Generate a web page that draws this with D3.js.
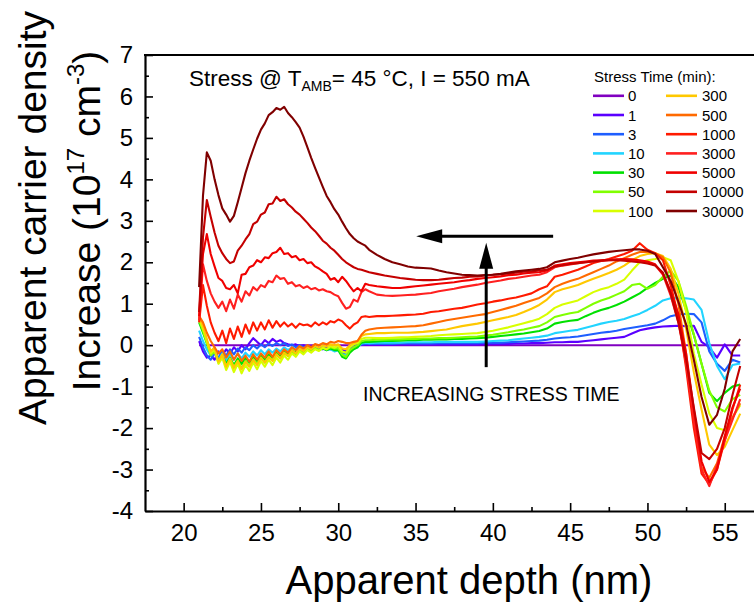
<!DOCTYPE html>
<html><head><meta charset="utf-8">
<script src="https://cdn.jsdelivr.net/npm/d3@7"></script>
<style>body{margin:0;background:#fff} svg{display:block} text{font-family:"Liberation Sans",Arial,sans-serif;fill:#000}</style>
</head><body><svg id="c" width="754" height="604"></svg>
<script>
const depth = [
 21,21.25,21.5,21.75,22,22.25,22.5,22.75,23,23.25,
 23.5,23.75,24,24.25,24.5,24.75,25,25.25,25.5,25.75,
 26,26.25,26.5,26.75,27,27.25,27.5,27.75,28,28.25,
 28.5,28.75,29,29.25,29.5,29.75,30,30.25,30.5,30.75,
 31,31.25,31.5,31.75,32,
 32.5,33,33.5,34,34.5,35,35.5,36,36.5,37,
 37.5,38,38.5,39,39.5,40,40.5,41,41.5,42,
 42.5,43,43.5,44,44.5,45,45.5,46,46.5,47,
 47.5,48,48.5,49,49.5,50,50.5,51,51.5,52,
 52.5,53,53.5,54,54.5,55,55.5,56];

const stressTimes = ["0","1","3","10","30","50","100","300","500","1000","3000","5000","10000","30000"];

const s0 = [
 0,0,0,0,0,0,0,0,0,0, 0,0,0,0,0,0,0,0,0,0, 0,0,0,0,0,0,0,0,0,0, 0,0,0,0,0,0,0,0,0,0, 0,0,0,0,0,
 0,0,0,0,0,0,0,0,0,0, 0,0,0,0,0,0,0,0,0,0, 0,0,0,0,0,0,0,0,0,0, 0,0,0,0,0,0,0,0,0,0, 0,0,0,0,0,0,0,0];
const s1 = [
 0.10,-0.15,-0.30,-0.25,-0.35,-0.15,-0.25,-0.10,-0.20,-0.05,
 -0.15,0.00,-0.10,0.05,0.17,0.08,0.00,0.12,0.05,0.15,
 0.08,0.12,0.05,0.02,0.00,0.02,-0.02,0.00,-0.05,-0.02,
 -0.08,-0.05,-0.10,-0.05,-0.10,-0.08,-0.05,-0.10,-0.15,-0.05,
 -0.02,0.00,0.02,0.01,0.01,
 0.01,0.01,0.01,0.02,0.02,0.02,0.02,0.02,0.02,0.02,
 0.02,0.02,0.02,0.02,0.03,0.03,0.03,0.03,0.04,0.04,
 0.05,0.05,0.06,0.07,0.07,0.08,0.08,0.10,0.12,0.14,
 0.16,0.18,0.20,0.28,0.36,0.40,0.43,0.45,0.46,0.47,
 0.46,0.47,0.08,-0.05,-0.30,0.02,-0.25,-0.25];
const s3 = [
 0.20,-0.05,-0.25,-0.35,-0.20,-0.30,-0.15,-0.25,-0.10,-0.22,
 -0.08,-0.18,-0.05,-0.12,0.00,-0.08,0.02,-0.05,0.04,-0.02,
 0.05,0.00,0.05,-0.02,0.02,-0.05,0.00,-0.05,-0.02,-0.08,
 -0.05,-0.10,-0.06,-0.12,-0.08,-0.10,-0.12,-0.18,-0.22,-0.10,
 -0.05,-0.02,0.02,0.03,0.03,
 0.03,0.03,0.03,0.04,0.04,0.04,0.04,0.04,0.05,0.05,
 0.05,0.05,0.05,0.05,0.06,0.06,0.06,0.07,0.08,0.09,
 0.10,0.11,0.13,0.16,0.18,0.19,0.21,0.24,0.27,0.30,
 0.32,0.35,0.39,0.42,0.45,0.48,0.52,0.60,0.70,0.74,
 0.76,0.75,0.55,-0.15,-0.45,-0.62,-0.35,-0.42];
const s10 = [
 0.35,0.10,-0.10,-0.25,-0.15,-0.35,-0.20,-0.38,-0.22,-0.35,
 -0.20,-0.32,-0.18,-0.28,-0.15,-0.25,-0.12,-0.22,-0.10,-0.18,
 -0.08,-0.15,-0.05,-0.12,-0.05,-0.10,-0.05,-0.08,-0.05,-0.10,
 -0.06,-0.12,-0.08,-0.12,-0.10,-0.15,-0.12,-0.22,-0.25,-0.12,
 -0.08,-0.05,0.04,0.06,0.05,
 0.06,0.06,0.06,0.06,0.07,0.07,0.07,0.07,0.08,0.08,
 0.08,0.08,0.08,0.08,0.09,0.10,0.11,0.12,0.14,0.16,
 0.18,0.20,0.23,0.29,0.32,0.35,0.37,0.42,0.47,0.52,
 0.56,0.59,0.63,0.70,0.76,0.85,0.95,1.08,1.13,1.14,
 1.13,1.10,0.85,0.05,-0.50,-0.82,-0.48,-0.44];
const s30 = [
 0.55,0.30,0.05,-0.20,-0.10,-0.38,-0.25,-0.45,-0.30,-0.48,
 -0.32,-0.45,-0.30,-0.42,-0.28,-0.38,-0.25,-0.35,-0.22,-0.30,
 -0.18,-0.28,-0.15,-0.22,-0.12,-0.18,-0.10,-0.16,-0.10,-0.15,
 -0.08,-0.12,-0.08,-0.12,-0.08,-0.12,-0.12,-0.28,-0.32,-0.18,
 -0.10,-0.05,0.06,0.08,0.08,
 0.09,0.10,0.10,0.11,0.12,0.12,0.13,0.13,0.14,0.14,
 0.15,0.15,0.16,0.17,0.18,0.20,0.22,0.24,0.26,0.28,
 0.31,0.34,0.40,0.52,0.56,0.59,0.61,0.70,0.78,0.85,
 0.90,0.97,1.05,1.15,1.25,1.38,1.50,1.60,1.68,1.40,
 0.85,0.25,-0.45,-1.15,-1.35,-1.15,-1.00,-0.95];
const s50 = [
 0.60,0.35,0.05,-0.25,-0.15,-0.42,-0.28,-0.50,-0.35,-0.52,
 -0.38,-0.55,-0.38,-0.50,-0.35,-0.45,-0.30,-0.42,-0.28,-0.36,
 -0.22,-0.32,-0.20,-0.26,-0.15,-0.22,-0.12,-0.18,-0.10,-0.15,
 -0.08,-0.12,-0.06,-0.10,-0.05,-0.08,-0.08,-0.22,-0.28,-0.12,
 -0.05,0.00,0.10,0.12,0.12,
 0.13,0.13,0.14,0.14,0.15,0.15,0.16,0.16,0.17,0.17,
 0.18,0.19,0.20,0.21,0.23,0.25,0.28,0.31,0.35,0.38,
 0.42,0.46,0.55,0.68,0.73,0.77,0.80,0.90,1.00,1.08,
 1.14,1.22,1.30,1.45,1.48,1.36,1.45,1.65,1.80,1.55,
 0.95,0.25,-0.45,-1.10,-1.50,-1.60,-1.30,-1.20];
const s100 = [
 0.65,0.40,0.10,-0.20,-0.10,-0.45,-0.30,-0.60,-0.40,-0.65,
 -0.45,-0.68,-0.48,-0.62,-0.42,-0.58,-0.38,-0.52,-0.35,-0.48,
 -0.30,-0.42,-0.25,-0.35,-0.20,-0.28,-0.15,-0.22,-0.12,-0.18,
 -0.10,-0.14,-0.06,-0.10,-0.02,-0.06,-0.02,-0.15,-0.18,-0.05,
 0.02,0.05,0.15,0.18,0.18,
 0.17,0.17,0.18,0.19,0.19,0.20,0.21,0.22,0.24,0.25,
 0.26,0.27,0.28,0.29,0.32,0.35,0.39,0.43,0.48,0.53,
 0.58,0.64,0.75,0.90,0.98,1.03,1.08,1.18,1.28,1.35,
 1.40,1.48,1.58,1.80,2.00,2.05,2.08,2.12,2.05,1.55,
 0.80,-0.20,-0.95,-1.65,-2.00,-2.05,-1.75,-1.45];
const s300 = [
 0.70,0.45,0.15,-0.15,-0.05,-0.40,-0.22,-0.52,-0.32,-0.55,
 -0.38,-0.58,-0.40,-0.52,-0.35,-0.48,-0.30,-0.42,-0.28,-0.38,
 -0.22,-0.32,-0.18,-0.26,-0.12,-0.20,-0.08,-0.14,-0.05,-0.10,
 -0.02,-0.06,0.00,-0.03,0.02,0.00,0.02,-0.08,-0.10,0.00,
 0.05,0.10,0.22,0.26,0.27,
 0.29,0.29,0.30,0.30,0.30,0.31,0.32,0.34,0.36,0.38,
 0.42,0.46,0.49,0.52,0.56,0.60,0.64,0.68,0.73,0.80,
 0.88,0.97,1.10,1.28,1.35,1.40,1.45,1.53,1.60,1.67,
 1.74,1.82,1.92,2.05,2.15,2.20,2.22,2.15,1.85,1.25,
 0.40,-0.65,-1.55,-2.40,-2.65,-2.45,-2.05,-1.65];
const s500 = [
 0.70,0.55,0.30,0.10,-0.05,-0.20,-0.10,-0.30,-0.15,-0.35,
 -0.20,-0.38,-0.25,-0.40,-0.22,-0.35,-0.20,-0.30,-0.15,-0.28,
 -0.12,-0.22,-0.10,-0.18,-0.05,-0.12,-0.02,-0.08,0.00,-0.05,
 0.03,0.00,0.05,0.02,0.08,0.06,0.10,0.08,0.05,0.05,
 0.08,0.10,0.25,0.35,0.38,
 0.41,0.42,0.43,0.44,0.45,0.46,0.48,0.52,0.56,0.60,
 0.63,0.66,0.69,0.72,0.75,0.80,0.85,0.90,0.95,1.02,
 1.08,1.14,1.25,1.40,1.48,1.55,1.60,1.68,1.76,1.84,
 1.92,2.02,2.10,2.18,2.25,2.25,2.22,2.12,1.75,1.00,
 -0.20,-1.75,-2.95,-3.20,-2.85,-2.20,-1.75,-1.40];
const s1000 = [
 0.55,1.45,0.95,0.55,0.30,0.10,0.35,0.05,0.40,0.15,
 0.45,0.20,0.50,0.28,0.55,0.35,0.55,0.38,0.60,0.42,
 0.58,0.45,0.55,0.45,0.52,0.42,0.52,0.48,0.50,0.45,
 0.55,0.48,0.55,0.50,0.58,0.55,0.62,0.58,0.48,0.40,
 0.50,0.55,0.68,0.70,0.68,
 0.70,0.70,0.71,0.72,0.73,0.74,0.76,0.80,0.82,0.85,
 0.88,0.90,0.94,0.98,1.01,1.05,1.08,1.12,1.15,1.20,
 1.25,1.35,1.42,1.65,1.70,1.76,1.82,1.90,1.98,2.03,
 2.08,2.14,2.20,2.28,2.46,2.30,2.22,2.05,1.45,0.70,
 -0.55,-2.00,-3.10,-3.35,-3.00,-2.30,-1.55,-0.95];
const s3000 = [
 0.60,1.95,1.55,1.25,1.05,0.90,1.05,0.82,1.10,0.88,
 1.22,1.05,1.30,1.20,1.40,1.32,1.45,1.40,1.55,1.52,
 1.68,1.60,1.62,1.48,1.52,1.42,1.45,1.38,1.42,1.35,
 1.38,1.32,1.35,1.30,1.28,1.22,1.18,1.02,0.88,0.92,
 1.10,1.05,1.28,1.35,1.30,
 1.22,1.20,1.19,1.20,1.21,1.22,1.24,1.26,1.30,1.33,
 1.36,1.40,1.43,1.46,1.50,1.53,1.56,1.60,1.62,1.65,
 1.68,1.70,1.76,1.88,1.92,1.95,1.98,2.00,2.02,2.03,
 2.05,2.06,2.06,2.05,2.03,2.00,1.93,1.70,1.20,0.55,
 -0.45,-1.80,-3.00,-3.40,-2.90,-2.30,-1.80,-1.30];
const s5000 = [
 0.70,2.20,2.68,2.20,1.90,1.62,1.55,1.38,1.35,1.45,
 1.25,1.70,1.72,1.88,1.92,2.05,2.00,2.12,2.10,2.22,
 2.25,2.35,2.20,2.22,2.12,2.15,2.05,2.08,1.98,2.00,
 1.90,1.85,1.78,1.72,1.58,1.62,1.52,1.65,1.55,1.42,
 1.30,1.38,1.30,1.48,1.45,
 1.42,1.40,1.38,1.38,1.40,1.42,1.44,1.46,1.48,1.50,
 1.52,1.55,1.57,1.60,1.62,1.64,1.66,1.69,1.70,1.73,
 1.75,1.76,1.80,1.92,1.95,1.98,2.00,2.02,2.04,2.05,
 2.06,2.07,2.08,2.07,2.05,2.02,1.95,1.72,1.30,0.75,
 -0.20,-1.55,-2.80,-3.30,-3.00,-2.20,-1.50,-1.05];
const s10000 = [
 0.80,2.60,3.50,3.10,2.72,2.40,2.22,2.08,1.98,2.02,
 2.28,2.40,2.55,2.68,2.92,2.98,3.15,3.20,3.40,3.42,
 3.58,3.48,3.52,3.40,3.32,3.22,3.15,3.05,2.95,2.84,
 2.75,2.64,2.52,2.45,2.35,2.28,2.18,2.08,2.00,1.94,
 1.88,1.84,1.82,1.79,1.76,
 1.72,1.68,1.65,1.62,1.60,1.58,1.57,1.57,1.58,1.60,
 1.62,1.63,1.65,1.66,1.68,1.70,1.71,1.73,1.75,1.77,
 1.78,1.80,1.82,1.90,1.93,1.96,1.98,2.00,2.02,2.04,
 2.05,2.05,2.04,2.02,2.00,1.97,1.92,1.75,1.25,0.55,
 -0.35,-1.50,-2.60,-2.75,-2.50,-2.00,-1.20,-0.50];
const s30000 = [
 1.40,3.60,4.65,4.45,4.00,3.62,3.30,3.15,2.98,3.12,
 3.45,3.80,4.15,4.45,4.72,4.98,5.20,5.35,5.55,5.62,
 5.72,5.68,5.75,5.60,5.50,5.38,5.25,5.03,4.78,4.52,
 4.28,4.05,3.82,3.60,3.45,3.28,3.15,2.98,2.82,2.68,
 2.58,2.50,2.45,2.40,2.30,
 2.18,2.08,2.00,1.95,1.90,1.87,1.86,1.85,1.80,1.76,
 1.73,1.70,1.69,1.68,1.69,1.70,1.72,1.75,1.78,1.80,
 1.82,1.84,1.88,2.00,2.04,2.08,2.11,2.15,2.19,2.22,
 2.25,2.27,2.29,2.31,2.31,2.28,2.20,1.88,1.55,1.05,
 0.50,-0.35,-1.25,-1.92,-1.68,-1.05,-0.15,0.15];

const seriesValues = [s0,s1,s3,s10,s30,s50,s100,s300,s500,s1000,s3000,s5000,s10000,s30000];
const colors = ["#8000c0","#5a00ff","#1e5eff","#22d4ff","#00e000","#80ff00","#d8ff00","#ffc800","#ff6a00","#ff1a00","#ff2020","#f00000","#c40000","#800000"];

const xTicks = [20,25,30,35,40,45,50,55];
const xMinor = [22.5,27.5,32.5,37.5,42.5,47.5,52.5];
const yTicks = [-4,-3,-2,-1,0,1,2,3,4,5,6,7];
const yMinor = [-3.5,-2.5,-1.5,-0.5,0.5,1.5,2.5,3.5,4.5,5.5,6.5];

const svg = d3.select("#c");
const x = d3.scaleLinear().domain([17.5,57.5]).range([145,763.4]);
const y = d3.scaleLinear().domain([-4,7]).range([511,55]);

svg.append("defs").append("clipPath").attr("id","clip").append("rect")
  .attr("x",x(17.5)).attr("y",y(7)).attr("width",x(57.5)-x(17.5)).attr("height",y(-4)-y(7));

// data lines
const line = d3.line().x((d,i)=>x(depth[i])).y(d=>y(d));
const gData = svg.append("g").attr("clip-path","url(#clip)");
seriesValues.forEach((vals,k)=>{
  gData.append("path").attr("d",line(vals)).attr("fill","none")
    .attr("stroke",colors[k]).attr("stroke-width",2.1).attr("stroke-linejoin","round");
});

// axes
const fmt = d=>String(d);
svg.append("g").attr("transform",`translate(0,${y(-4)})`)
  .call(d3.axisBottom(x).tickValues(xTicks).tickFormat(fmt).tickSize(-8).tickSizeOuter(0).tickPadding(13));
svg.append("g").attr("transform",`translate(0,${y(-4)})`)
  .call(d3.axisBottom(x).tickValues(xMinor).tickFormat("").tickSize(-4).tickSizeOuter(0))
  .select(".domain").remove();
svg.append("g").attr("transform",`translate(${x(17.5)},0)`)
  .call(d3.axisLeft(y).tickValues(yTicks).tickFormat(fmt).tickSize(-8).tickSizeOuter(0).tickPadding(12));
svg.append("g").attr("transform",`translate(${x(17.5)},0)`)
  .call(d3.axisLeft(y).tickValues(yMinor).tickFormat("").tickSize(-4).tickSizeOuter(0))
  .select(".domain").remove();
svg.selectAll(".tick line").attr("stroke","#000").attr("stroke-width",1.6);
svg.selectAll(".domain").attr("stroke","#000").attr("stroke-width",2.2);
svg.selectAll(".tick text").attr("font-size",24).attr("font-family","Liberation Sans, Arial, sans-serif").attr("fill","#000");
// frame
svg.append("line").attr("x1",x(17.5)-1).attr("x2",x(57.5)).attr("y1",y(7)).attr("y2",y(7))
  .attr("stroke","#000").attr("stroke-width",2.2);
svg.append("line").attr("x1",x(57.5)).attr("x2",x(57.5)).attr("y1",y(7)).attr("y2",y(-4))
  .attr("stroke","#000").attr("stroke-width",2.2);

// axis titles
svg.append("text").attr("x",469).attr("y",594).attr("text-anchor","middle")
  .attr("font-size",40).text("Apparent depth (nm)");
const yt = svg.append("g").attr("transform","translate(0,218) rotate(-90)");
yt.append("text").attr("x",0).attr("y",46).attr("text-anchor","middle").attr("font-size",39)
  .text("Apparent carrier density");
const t2 = yt.append("text").attr("x",-3).attr("y",100).attr("text-anchor","middle").attr("font-size",39);
t2.append("tspan").text("Increase (10");
t2.append("tspan").attr("font-size",24).attr("dy",-16).text("17");
t2.append("tspan").attr("dy",16).text(" cm");
t2.append("tspan").attr("font-size",24).attr("dy",-16).text("-3");
t2.append("tspan").attr("dy",16).text(")");

// condition annotation
const ann = svg.append("text").attr("x",189).attr("y",86).attr("font-size",22.5);
ann.append("tspan").text("Stress @ T");
ann.append("tspan").attr("font-size",14).attr("dy",5).text("AMB");
ann.append("tspan").attr("dy",-5).text("= 45 °C, I = 550 mA");

// legend
const lg = svg.append("g");
lg.append("text").attr("x",594).attr("y",82).attr("font-size",15).text("Stress Time (min):");
stressTimes.forEach((lab,k)=>{
  const col = k<7?0:1, row = k%7;
  const ly = 95.8 + row*19.2;
  const lx = col===0?593:666;
  lg.append("line").attr("x1",lx).attr("x2",lx+31).attr("y1",ly).attr("y2",ly)
    .attr("stroke",colors[k]).attr("stroke-width",2.6);
  lg.append("text").attr("x",col===0?628:702).attr("y",ly+5.5).attr("font-size",15).text(lab);
});

// arrows
function arrow(x1,y1,x2,y2){
  const dx=x2-x1, dy=y2-y1, L=Math.hypot(dx,dy), ux=dx/L, uy=dy/L, hl=26, hw=7;
  const bx=x2-ux*hl, by=y2-uy*hl;
  svg.append("line").attr("x1",x1).attr("y1",y1).attr("x2",bx+ux*2).attr("y2",by+uy*2)
    .attr("stroke","#000").attr("stroke-width",3);
  svg.append("path").attr("d",`M${x2},${y2}L${bx-uy*hw},${by+ux*hw}L${bx+uy*hw},${by-ux*hw}Z`).attr("fill","#000");
}
arrow(x(43.9),y(2.63),x(35.04),y(2.63));
arrow(x(39.57),y(-0.53),x(39.57),y(2.47));
svg.append("text").attr("x",x(39.9)).attr("y",401).attr("text-anchor","middle").attr("font-size",19.5)
  .text("INCREASING STRESS TIME");
</script></body></html>
